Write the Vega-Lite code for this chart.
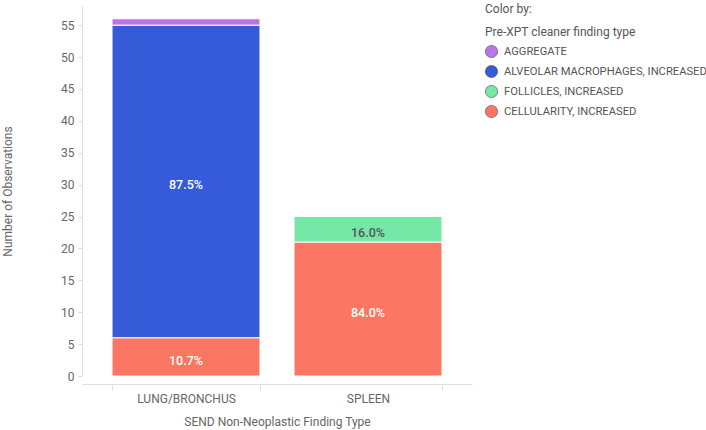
{
  "$schema": "https://vega.github.io/schema/vega-lite/v6.json",
  "autosize": "none",
  "padding": {"left": 82, "top": 6, "right": 234, "bottom": 54},
  "width": 390,
  "height": 370,
  "background": "white",
  "config": {
    "font": "Roboto",
    "view": {"stroke": null},
    "axis": {"labelFont": "Roboto", "titleFont": "Roboto", "labelColor": "#666", "titleColor": "#666", "titleFontWeight": "normal", "labelFontSize": 12, "titleFontSize": 12, "domainColor": "#ddd", "tickColor": "#ddd", "grid": false}
  },
  "data": {"values": [
    {"organ": "LUNG/BRONCHUS", "finding": "CELLULARITY, INCREASED", "count": 6, "pct": "10.7%", "ord": 1},
    {"organ": "LUNG/BRONCHUS", "finding": "ALVEOLAR MACROPHAGES, INCREASED", "count": 49, "pct": "87.5%", "ord": 2},
    {"organ": "LUNG/BRONCHUS", "finding": "AGGREGATE", "count": 1, "pct": "1.8%", "ord": 4},
    {"organ": "SPLEEN", "finding": "CELLULARITY, INCREASED", "count": 21, "pct": "84.0%", "ord": 1},
    {"organ": "SPLEEN", "finding": "FOLLICLES, INCREASED", "count": 4, "pct": "16.0%", "ord": 3}
  ]},
  "transform": [
    {"stack": "count", "groupby": ["organ"], "sort": [{"field": "ord"}], "as": ["y0", "y1"]},
    {"calculate": "(datum.y0 + datum.y1) / 2", "as": "ymid"}
  ],
  "encoding": {
    "x": {"field": "organ", "type": "nominal", "title": "SEND Non-Neoplastic Finding Type",
      "scale": {"paddingInner": 0.187, "paddingOuter": 0.165},
      "axis": {"labelAngle": 0, "tickBand": "extent", "offset": 8, "labelPadding": 3, "titlePadding": 12, "tickSize": 6}}
  },
  "layer": [
    {
      "mark": {"type": "bar", "stroke": "white", "strokeWidth": 1},
      "encoding": {
        "y": {"field": "y1", "type": "quantitative", "title": "Number of Observations",
          "scale": {"domain": [0, 58], "nice": false},
          "axis": {"values": [0,5,10,15,20,25,30,35,40,45,50,55], "labelOverlap": false, "tickSize": 4, "labelPadding": 4, "titlePadding": 46}},
        "y2": {"field": "y0"},
        "color": {"field": "finding", "type": "nominal",
          "scale": {"domain": ["AGGREGATE", "ALVEOLAR MACROPHAGES, INCREASED", "FOLLICLES, INCREASED", "CELLULARITY, INCREASED"],
            "range": ["#bb74e6", "#355bd9", "#75e8a7", "#fb7763"]},
          "legend": {"title": ["Color by:", "Pre-XPT cleaner finding type"], "orient": "none", "legendX": 403, "legendY": -2,
            "titleFontWeight": "normal", "titleColor": "#555", "titleFontSize": 12, "titleFont": "Roboto", "titleLineHeight": 23, "titlePadding": 6,
            "labelFont": "Roboto", "labelFontSize": 11.2, "labelColor": "#555", "labelLimit": 400, "symbolType": "circle", "symbolSize": 150,
            "symbolStrokeColor": "#444", "symbolStrokeWidth": 0.6, "rowPadding": 5, "labelOffset": 6, "symbolOpacity": 1}
        },
        "order": {"field": "ord", "type": "quantitative"}
      }
    },
    {
      "transform": [{"filter": "datum.count >= 4"}],
      "mark": {"type": "text", "fontSize": 12.5, "fontWeight": 500, "font": "Roboto", "dy": 4},
      "encoding": {
        "y": {"field": "ymid", "type": "quantitative", "title": "Number of Observations",
          "axis": {"values": [0,5,10,15,20,25,30,35,40,45,50,55], "labelOverlap": false, "tickSize": 4, "labelPadding": 4, "titlePadding": 46}},
        "text": {"field": "pct"},
        "color": {"condition": {"test": "datum.finding === 'FOLLICLES, INCREASED'", "value": "#555"}, "value": "white"}
      }
    }
  ]
}
